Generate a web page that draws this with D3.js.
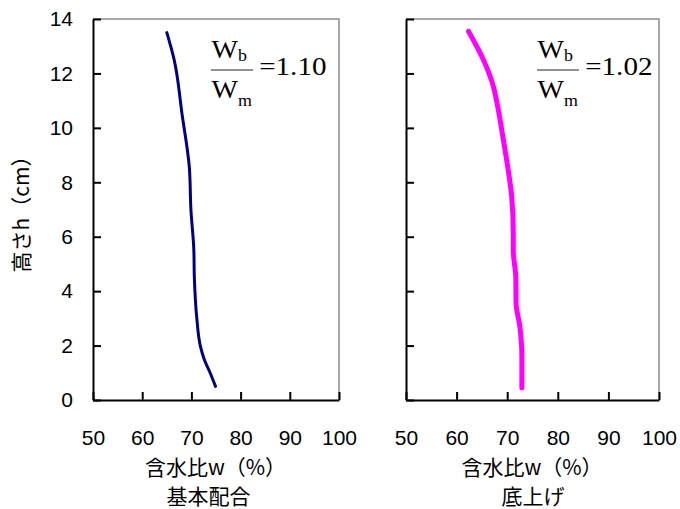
<!DOCTYPE html>
<html>
<head>
<meta charset="utf-8">
<script src="https://cdn.jsdelivr.net/npm/d3@7"></script>
<style>
  body { margin: 0; background: #fff; }
  svg { display: block; }
</style>
</head>
<body>
<svg id="chart" width="680" height="509"></svg>
<script>
// height h (cm) vs water content w (%)
const baseH = [0.5, 1.0, 1.5, 2.0, 3.0, 4.5, 5.5, 7.0, 8.5, 10.5, 12.5, 13.5];
const baseW = [74.9, 73.8, 72.6, 71.8, 71.1, 70.6, 70.5, 69.9, 69.6, 68.1, 66.5, 65.0];

const raisedH = [0.45, 1.6, 2.7, 3.55, 4.5, 5.5, 6.1, 7.45, 8.45, 9.55, 11.0, 11.5, 12.5, 13.55];
const raisedW = [72.9, 72.9, 72.5, 71.75, 71.7, 71.2, 71.2, 70.9, 70.2, 69.25, 67.9, 67.3, 65.3, 62.35];

const xTicks = [50, 60, 70, 80, 90, 100];
const yTicks = [0, 2, 4, 6, 8, 10, 12, 14];

const panels = [
  { h: baseH, w: baseW, color: '#000080', width: 3, x0: 93, x1: 339, title: '基本配合', titleDx: -7, ratio: '1.10', showY: true },
  { h: raisedH, w: raisedW, color: '#ff00ff', width: 5, x0: 406, x1: 659, title: '底上げ', titleDx: 1, ratio: '1.02', showY: false },
];

const svg = d3.select('#chart');
const plotTop = 19;
const plotBottom = 400;

const y = d3.scaleLinear().domain([0, 14]).range([plotBottom, plotTop]);

panels.forEach((p) => {
  const x = d3.scaleLinear().domain([50, 100]).range([p.x0, p.x1]);
  const g = svg.append('g');

  // top / right frame
  g.append('path')
    .attr('d', `M${p.x0},${plotTop}H${p.x1}V${plotBottom}`)
    .attr('fill', 'none')
    .attr('stroke', '#8c8c8c')
    .attr('stroke-width', 1.5);

  // x axis
  const xAxis = g.append('g')
    .attr('transform', `translate(0,${plotBottom})`)
    .call(d3.axisBottom(x).tickValues(xTicks).tickSizeInner(-8).tickSizeOuter(0).tickPadding(30));

  // y axis
  const yAxis = g.append('g')
    .attr('transform', `translate(${p.x0},0)`)
    .call(d3.axisLeft(y).tickValues(yTicks).tickSizeInner(-8).tickSizeOuter(0).tickPadding(20)
      .tickFormat(p.showY ? d3.format('d') : () => ''));

  [xAxis, yAxis].forEach((a) => {
    a.select('.domain').attr('stroke', '#000').attr('stroke-width', 2);
    a.selectAll('.tick line').attr('stroke', '#000').attr('stroke-width', 2);
    a.selectAll('.tick text')
      .attr('fill', '#000')
      .style('font-family', '"Liberation Sans", Arial, sans-serif')
      .style('font-size', '21px');
  });

  // curve
  const pts = p.h.map((h, i) => [p.w[i], h]);
  g.append('path')
    .datum(pts)
    .attr('fill', 'none')
    .attr('stroke', p.color)
    .attr('stroke-width', p.width)
    .attr('stroke-linecap', 'round')
    .attr('stroke-linejoin', 'round')
    .attr('d', d3.line().x(d => x(d[0])).y(d => y(d[1])).curve(d3.curveMonotoneY));

  // axis title, two lines
  const cx = (p.x0 + p.x1) / 2 - 0.5;
  const title = g.append('text')
    .attr('text-anchor', 'middle')
    .style('font-family', '"Noto Sans CJK JP", sans-serif')
    .style('font-size', '21px');
  title.append('tspan').attr('x', cx).attr('y', 475).text('含水比w（%）');
  title.append('tspan').attr('x', cx + p.titleDx).attr('y', 504).text(p.title);

  // W_b / W_m annotation
  const ax = p.x1 - (p.showY ? 128 : 122);
  const ann = g.append('g')
    .attr('transform', `translate(${ax},0) scale(1.12,1)`)
    .style('font-family', '"Liberation Serif", "Times New Roman", serif');
  ann.append('line')
    .attr('x1', 0).attr('x2', 37.5).attr('y1', 70).attr('y2', 70)
    .attr('stroke', '#222').attr('stroke-width', 1);
  const num = ann.append('text').attr('x', 0.5).attr('y', 58).style('font-size', '25px');
  num.append('tspan').text('W');
  num.append('tspan').attr('dy', 3).style('font-size', '16px').text('b');
  const den = ann.append('text').attr('x', 0.5).attr('y', 98).style('font-size', '25px');
  den.append('tspan').text('W');
  den.append('tspan').attr('dy', 8).style('font-size', '16px').text('m');
  ann.append('text')
    .attr('x', 43).attr('y', 75)
    .style('font-size', '26px')
    .text('=' + p.ratio);
});

// y title
svg.append('text')
  .attr('transform', 'translate(29,209) rotate(-90)')
  .attr('text-anchor', 'middle')
  .style('font-family', '"Noto Sans CJK JP", sans-serif')
  .style('font-size', '21px')
  .text('高さh（cm）');
</script>
</body>
</html>
